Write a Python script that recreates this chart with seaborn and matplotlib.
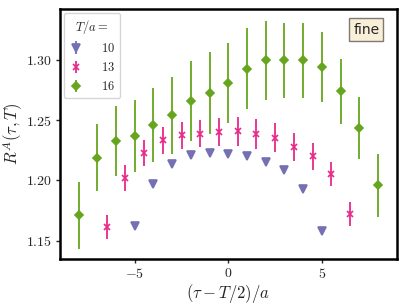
import matplotlib
matplotlib.use("Agg")
import matplotlib.pyplot as plt
from matplotlib.ticker import MultipleLocator
import numpy as np
import seaborn as sns

# data
tau_10 = [-5, -4, -3, -2, -1, 0, 1, 2, 3, 4, 5]
r_10 = [1.1622, 1.1972, 1.2133, 1.2210, 1.2225, 1.2222, 1.2200, 1.2153, 1.2083, 1.1930, 1.1583]
err_10 = [0.003, 0.003, 0.003, 0.003, 0.003, 0.003, 0.003, 0.003, 0.003, 0.003, 0.003]

tau_13 = [-6.5, -5.5, -4.5, -3.5, -2.5, -1.5, -0.5, 0.5, 1.5, 2.5, 3.5, 4.5, 5.5, 6.5]
r_13 = [1.1617, 1.2019, 1.2228, 1.2333, 1.2375, 1.2390, 1.2403, 1.2410, 1.2383, 1.2356,
        1.2278, 1.2200, 1.2056, 1.1722]
err_13 = [0.010, 0.011, 0.0105, 0.011, 0.011, 0.011, 0.0115, 0.012, 0.0125, 0.012,
          0.012, 0.011, 0.010, 0.010]

tau_16 = [-8, -7, -6, -5, -4, -3, -2, -1, 0, 1, 2, 3, 4, 5, 6, 7, 8]
r_16 = [1.171, 1.219, 1.233, 1.237, 1.246, 1.254, 1.266, 1.2725, 1.281, 1.293, 1.2997,
        1.2997, 1.2997, 1.294, 1.274, 1.2436, 1.196]
err_16 = [0.028, 0.028, 0.029, 0.030, 0.031, 0.032, 0.033, 0.034, 0.033, 0.034, 0.033,
          0.031, 0.031, 0.029, 0.027, 0.026, 0.026]

labels = ["10", "13", "16"]

sns.set_style("ticks")
plt.rcParams["font.family"] = "serif"
plt.rcParams["font.serif"] = ["cmr10"]
plt.rcParams["mathtext.fontset"] = "cm"
plt.rcParams["axes.formatter.use_mathtext"] = True
plt.rcParams["axes.unicode_minus"] = True

pal = sns.color_palette("Dark2")
colors = [pal[2], pal[3], pal[4]]
markers = ["v", "x", "D"]
msizes = [6, 4.8, 3.6]

fig, ax = plt.subplots(figsize=(4.07, 3.07), dpi=100)
fig.subplots_adjust(left=0.147, right=0.975, top=0.971, bottom=0.156)

series = [(tau_10, r_10, err_10), (tau_13, r_13, err_13), (tau_16, r_16, err_16)]
for (x, y, e), lab, c, m, ms in zip(series, labels, colors, markers, msizes):
    ax.errorbar(x, y, yerr=e, fmt=m, color=c, ms=ms, mew=1.2, elinewidth=1.3,
                capsize=0, label=f"${lab}$")

ax.set_xlim(-9, 9)
ax.set_ylim(1.1347, 1.3425)
ax.xaxis.set_major_locator(MultipleLocator(5))
ax.yaxis.set_major_locator(MultipleLocator(0.05))
ax.yaxis.set_major_formatter(matplotlib.ticker.FormatStrFormatter("$%.2f$"))
ax.xaxis.set_major_formatter(matplotlib.ticker.FuncFormatter(lambda v, p: f"${int(v)}$"))
ax.tick_params(labelsize=10, length=3, width=1, pad=2.5)

for side in ax.spines:
    ax.spines[side].set_linewidth(1.8)
    ax.spines[side].set_color("black")

ax.set_xlabel(r"$(\tau - T/2)/a$", fontsize=12, labelpad=1)
ax.set_ylabel(r"$R^A(\tau, T)$", fontsize=12, labelpad=1)

ax.legend(title=r"$T/a =$", loc="upper left", fontsize=9, title_fontsize=9,
          handletextpad=1.4, handlelength=1.2, borderaxespad=0.3)

ax.text(0.948, 0.945, "fine", transform=ax.transAxes, ha="right", va="top",
        fontsize=10, family="DejaVu Sans",
        bbox=dict(boxstyle="square,pad=0.3", facecolor="wheat", alpha=0.5, edgecolor="black"))

fig.savefig("out.png", dpi=100)
